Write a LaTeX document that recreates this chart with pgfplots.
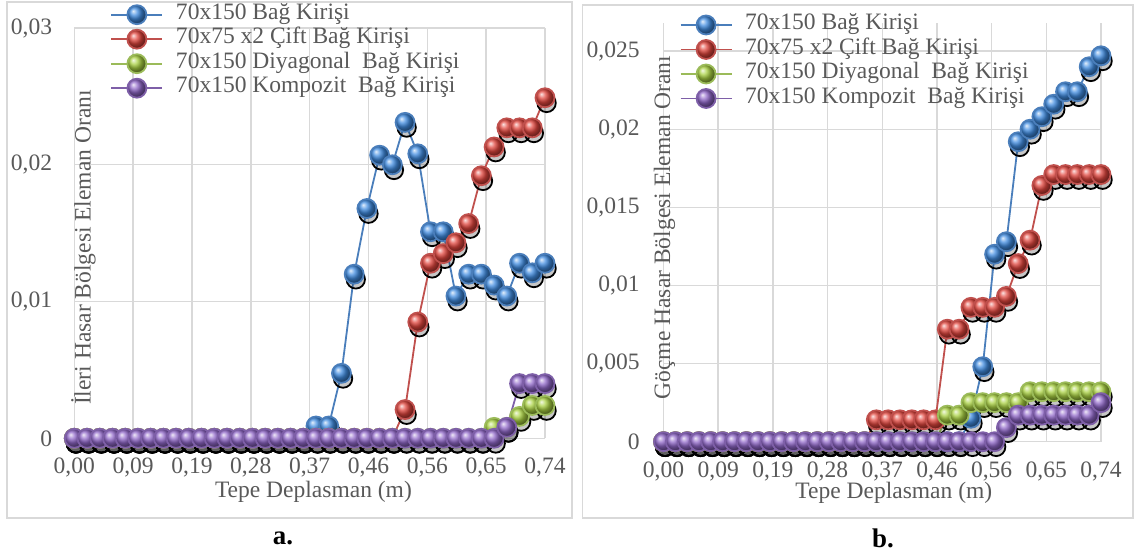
\documentclass[border=0pt]{standalone}
\usepackage{fontspec}
\setmainfont{Liberation Serif}
\usepackage{pgfplots}
\pgfplotsset{compat=1.18}
\usepackage{pgfplotstable}

\definecolor{sblue}{HTML}{4A7EBB}
\definecolor{sred}{HTML}{C0504D}
\definecolor{sgreen}{HTML}{9BBB59}
\definecolor{spurple}{HTML}{7E5FA8}
\definecolor{bblue}{HTML}{3F8BE0}
\definecolor{bred}{HTML}{E0443C}
\definecolor{bgreen}{HTML}{A8D040}
\definecolor{bpurple}{HTML}{8F66C8}
\definecolor{txt}{HTML}{595959}
\definecolor{gridc}{HTML}{D9D9D9}

\pgfplotstableread{
x a b c d
0.00 0 0 0 0
0.02 0 0 0 0
0.04 0 0 0 0
0.06 0 0 0 0
0.08 0 0 0 0
0.10 0 0 0 0
0.12 0 0 0 0
0.14 0 0 0 0
0.16 0 0 0 0
0.18 0 0 0 0
0.20 0 0 0 0
0.22 0 0 0 0
0.24 0 0 0 0
0.26 0 0 0 0
0.28 0 0 0 0
0.30 0 0 0 0
0.32 0 0 0 0
0.34 0 0 0 0
0.36 0 0 0 0
0.38 0.0009 0 0 0
0.40 0.0009 0 0 0
0.42 0.00475 0 0 0
0.44 0.0120 0 0 0
0.46 0.0168 0 0 0
0.48 0.0207 0 0 0
0.50 0.0200 0 0 0
0.52 0.0231 0.0021 0 0
0.54 0.0208 0.0085 0 0
0.56 0.0151 0.0128 0 0
0.58 0.0151 0.0135 0 0
0.60 0.0104 0.0143 0 0
0.62 0.0120 0.0157 0 0
0.64 0.0120 0.0192 0 0
0.66 0.0112 0.0213 0.0008 0
0.68 0.0104 0.0227 0.0008 0.0008
0.70 0.0128 0.0227 0.0016 0.0040
0.72 0.0121 0.0227 0.0024 0.0040
0.74 0.0128 0.0249 0.0024 0.0040
}\tabA

\pgfplotstableread{
x a b c d
0.00 0 0 0 0
0.02 0 0 0 0
0.04 0 0 0 0
0.06 0 0 0 0
0.08 0 0 0 0
0.10 0 0 0 0
0.12 0 0 0 0
0.14 0 0 0 0
0.16 0 0 0 0
0.18 0 0 0 0
0.20 0 0 0 0
0.22 0 0 0 0
0.24 0 0 0 0
0.26 0 0 0 0
0.28 0 0 0 0
0.30 0 0 0 0
0.32 0 0 0 0
0.34 0 0 0 0
0.36 0 0.0014 0 0
0.38 0 0.0014 0 0
0.40 0 0.0014 0 0
0.42 0 0.0014 0 0
0.44 0 0.0014 0 0
0.46 0 0.0014 0 0
0.48 0 0.0072 0.0017 0
0.50 0 0.0072 0.0017 0
0.52 0.0015 0.0086 0.0025 0
0.54 0.0048 0.0086 0.0025 0
0.56 0.0120 0.0086 0.0025 0
0.58 0.0128 0.0093 0.0025 0.0009
0.60 0.0192 0.0114 0.0025 0.0017
0.62 0.0200 0.0129 0.0032 0.0017
0.64 0.0208 0.0164 0.0032 0.0017
0.66 0.0216 0.0171 0.0032 0.0017
0.68 0.0224 0.0171 0.0032 0.0017
0.70 0.0224 0.0171 0.0032 0.0017
0.72 0.0240 0.0171 0.0032 0.0017
0.74 0.0247 0.0171 0.0032 0.0025
}\tabB

\newcommand{\chfont}{\fontsize{11.8}{14}\selectfont}

\pgfplotsset{
  myaxis/.style={
    scale only axis, clip=false,
    xmin=0, xmax=0.74, ymin=0,
    scaled y ticks=false, scaled x ticks=false,
    axis line style={draw=none},
    major tick length=0pt,
    grid=major,
    major grid style={gridc, line width=0.7bp},
    xtick={0,0.0925,0.185,0.2775,0.37,0.4625,0.555,0.6475,0.74},
    xticklabels={{0,00},{0,09},{0,19},{0,28},{0,37},{0,46},{0,56},{0,65},{0,74}},
    tick label style={font=\chfont, text=txt, inner sep=0pt},
    xticklabel style={anchor=base, yshift=-17.8bp},
    label style={font=\chfont, text=txt, inner sep=0pt},
    legend style={draw=none, fill=none, inner sep=0pt, outer sep=0pt, row sep=0pt,
      font=\chfont, text=txt,
      nodes={inner sep=0pt, text height=8.5bp, text depth=3.75bp, anchor=west}},
    legend cell align=left,
    legend image code/.code={%
      \draw[mark repeat=2,mark phase=2,##1] plot coordinates {(0bp,0bp) (12.75bp,0bp) (25.5bp,0bp)};
      \path (31.85bp,0bp);},
    every axis plot/.append style={line width=0.9bp, mark=ball, mark size=4.75bp},
  },
  sB/.style={sblue, mark options={ball color=bblue}},
  sR/.style={sred, mark options={ball color=bred}},
  sG/.style={sgreen, mark options={ball color=bgreen}},
  sP/.style={spurple, mark options={ball color=bpurple}},
  shd/.style={forget plot, only marks, mark=*, mark size=4.6bp,
    mark options={fill=black, draw=none, fill opacity=0.22},
    yshift=-2.6bp, xshift=0.8bp},
}

\begin{document}
\begin{tikzpicture}
\useasboundingbox (0,0) rectangle (567bp,277bp);
\draw[gridc, line width=0.7bp] (3.5bp,18bp) rectangle (286bp,276bp);
\draw[gridc, line width=0.7bp] (291.3bp,18bp) rectangle (566.5bp,274.5bp);

\begin{axis}[myaxis,
  at={(37.15bp,57.85bp)}, anchor=south west,
  width=235.35bp, height=205.15bp,
  ymax=0.03,
  ytick={0,0.01,0.02,0.03},
  yticklabels={0,{0,01},{0,02},{0,03}},
  yticklabel style={anchor=east, xshift=-10.9bp},
  xlabel={Tepe Deplasman (m)},
  xlabel style={at={(axis description cs:0.508,-0.1455)}, anchor=base},
  ylabel={İleri Hasar Bölgesi Eleman Oranı},
  ylabel style={at={(axis description cs:0.0348,0.465)}, anchor=base},
  legend style={at={(axis description cs:0.0769,1.0623)}, anchor=north west},
]
\addplot[shd] table[x=x,y=a]{\tabA};
\addplot[shd] table[x=x,y=b]{\tabA};
\addplot[shd] table[x=x,y=c]{\tabA};
\addplot[shd] table[x=x,y=d]{\tabA};
\addplot[sB] table[x=x,y=a]{\tabA};
\addplot[sR] table[x=x,y=b]{\tabA};
\addplot[sG] table[x=x,y=c]{\tabA};
\addplot[sP] table[x=x,y=d]{\tabA};
\legend{70x150 Bağ Kirişi, 70x75 x2 Çift Bağ Kirişi, 70x150 Diyagonal\ \ Bağ Kirişi, 70x150 Kompozit\ \ Bağ Kirişi}
\end{axis}

\begin{axis}[myaxis,
  at={(331.75bp,56.15bp)}, anchor=south west,
  width=218.75bp, height=209.35bp,
  ymax=0.0268,
  ytick={0,0.005,0.01,0.015,0.02,0.025},
  yticklabels={0,{0,005},{0,01},{0,015},{0,02},{0,025}},
  yticklabel style={anchor=east, xshift=-11.75bp},
  xlabel={Tepe Deplasman (m)},
  xlabel style={at={(axis description cs:0.5264,-0.1345)}, anchor=base},
  ylabel={Göçme Hasar Bölgesi Eleman Oranı},
  ylabel style={at={(axis description cs:0.0149,0.5116)}, anchor=base},
  legend style={at={(axis description cs:0.037,1.0245)}, anchor=north west},
]
\addplot[shd] table[x=x,y=a]{\tabB};
\addplot[shd] table[x=x,y=b]{\tabB};
\addplot[shd] table[x=x,y=c]{\tabB};
\addplot[shd] table[x=x,y=d]{\tabB};
\addplot[sB] table[x=x,y=a]{\tabB};
\addplot[sR] table[x=x,y=b]{\tabB};
\addplot[sG] table[x=x,y=c]{\tabB};
\addplot[sP] table[x=x,y=d]{\tabB};
\legend{70x150 Bağ Kirişi, 70x75 x2 Çift Bağ Kirişi, 70x150 Diyagonal\ \ Bağ Kirişi, 70x150 Kompozit\ \ Bağ Kirişi}
\end{axis}

\node[font=\bfseries\fontsize{13.5}{16}\selectfont] at (141.5bp,8bp) {a.};
\node[font=\bfseries\fontsize{13.5}{16}\selectfont] at (441.5bp,8bp) {b.};
\end{tikzpicture}
\end{document}
